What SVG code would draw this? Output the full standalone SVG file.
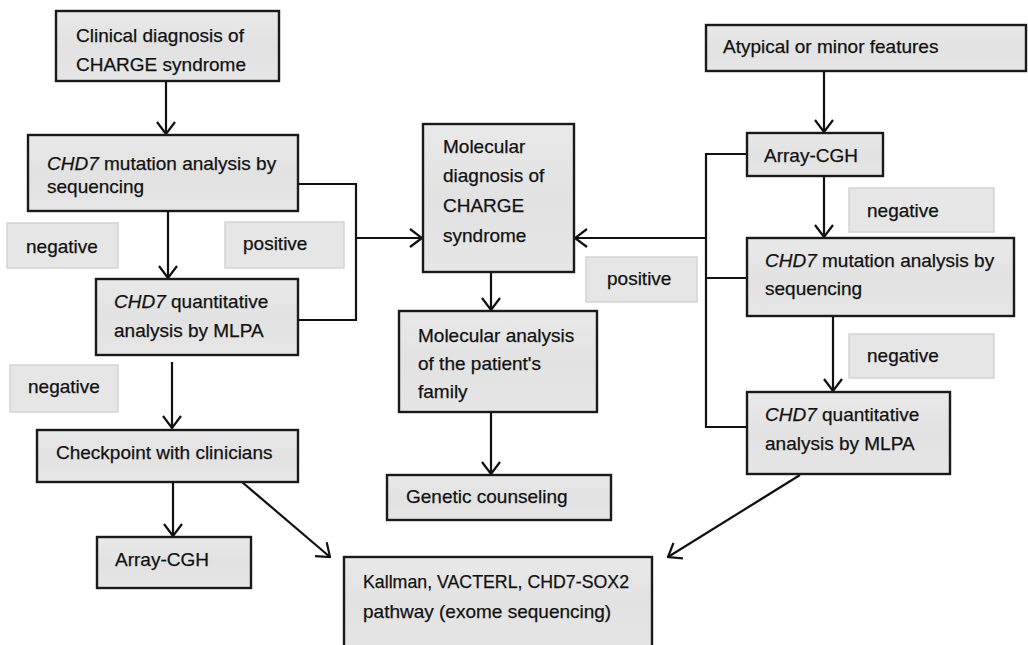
<svg xmlns="http://www.w3.org/2000/svg" width="1028" height="645" viewBox="0 0 1028 645">
  <defs>
    <linearGradient id="boxFill" x1="0" y1="0" x2="0" y2="1">
      <stop offset="0" stop-color="#e9e9e9"/>
      <stop offset="0.5" stop-color="#e2e2e2"/>
      <stop offset="1" stop-color="#e6e6e6"/>
    </linearGradient>
    <marker id="vee" viewBox="0 0 14 20" refX="13" refY="10" markerWidth="14" markerHeight="20" markerUnits="userSpaceOnUse" orient="auto">
      <path d="M1,1 L13,10 L1,19" fill="none" stroke="#111" stroke-width="2.2"/>
    </marker>
    <style>
      .box { fill: url(#boxFill); stroke: #1a1a1a; stroke-width: 2.4; }
      .tag { fill: #e6e6e6; stroke: #d4d4d4; stroke-width: 1.5; }
      .t { font-family: "Liberation Sans", Arial, sans-serif; font-size: 19px; fill: #111; stroke: #111; stroke-width: 0.25; }
      .i { font-style: italic; }
      .ln { fill: none; stroke: #111; stroke-width: 2.2; }
      .arr { fill: none; stroke: #111; stroke-width: 2.2; marker-end: url(#vee); }
    </style>
  </defs>
  <rect width="1028" height="645" fill="#ffffff"/>

  <!-- connectors -->
  <g id="connectors">
    <line class="arr" x1="166" y1="81" x2="166" y2="134"/>
    <line class="arr" x1="168" y1="211" x2="168" y2="278"/>
    <line class="arr" x1="172" y1="362" x2="172" y2="428"/>
    <line class="arr" x1="173" y1="482" x2="173" y2="536"/>
    <line class="arr" x1="242" y1="482" x2="330" y2="557"/>
    <polyline class="ln" points="298,184 356,184 356,320 298,320"/>
    <line class="arr" x1="356" y1="238" x2="422" y2="238"/>
    <line class="arr" x1="491" y1="272" x2="491" y2="310"/>
    <line class="arr" x1="491" y1="412" x2="491" y2="474"/>
    <line class="arr" x1="824" y1="71" x2="824" y2="132"/>
    <line class="arr" x1="824" y1="176" x2="824" y2="237"/>
    <line class="arr" x1="833" y1="316" x2="833" y2="391"/>
    <polyline class="ln" points="747,154 706,154 706,427 747,427"/>
    <line class="ln" x1="706" y1="278" x2="747" y2="278"/>
    <line class="arr" x1="706" y1="238" x2="575" y2="238"/>
    <line class="arr" x1="800" y1="475" x2="668" y2="557"/>
  </g>

  <!-- outcome labels -->
  <g id="label-negative-1">
    <rect class="tag" x="7" y="223" width="111" height="45"/>
    <text class="t" x="26" y="253">negative</text>
  </g>
  <g id="label-positive-1">
    <rect class="tag" x="225" y="222" width="119" height="46"/>
    <text class="t" x="243" y="250">positive</text>
  </g>
  <g id="label-negative-2">
    <rect class="tag" x="10" y="365" width="108" height="47"/>
    <text class="t" x="28" y="393">negative</text>
  </g>
  <g id="label-negative-3">
    <rect class="tag" x="849" y="188" width="145" height="44"/>
    <text class="t" x="867" y="217">negative</text>
  </g>
  <g id="label-negative-4">
    <rect class="tag" x="849" y="334" width="145" height="44"/>
    <text class="t" x="867" y="362">negative</text>
  </g>
  <g id="label-positive-2">
    <rect class="tag" x="586" y="257" width="111" height="45"/>
    <text class="t" x="607" y="285">positive</text>
  </g>

  <!-- left branch -->
  <g id="clinical-diagnosis">
    <rect class="box" x="56" y="11" width="223" height="70"/>
    <text class="t" x="76" y="42">Clinical diagnosis of</text>
    <text class="t" x="76" y="71">CHARGE syndrome</text>
  </g>
  <g id="chd7-sequencing-left">
    <rect class="box" x="28" y="135" width="270" height="76"/>
    <text class="t" x="47" y="170"><tspan class="i">CHD7</tspan> mutation analysis by</text>
    <text class="t" x="47" y="193">sequencing</text>
  </g>
  <g id="chd7-mlpa-left">
    <rect class="box" x="96" y="279" width="202" height="76"/>
    <text class="t" x="114" y="308"><tspan class="i">CHD7</tspan> quantitative</text>
    <text class="t" x="114" y="337">analysis by MLPA</text>
  </g>
  <g id="checkpoint">
    <rect class="box" x="37" y="430" width="261" height="52"/>
    <text class="t" x="56" y="459">Checkpoint with clinicians</text>
  </g>
  <g id="array-cgh-left">
    <rect class="box" x="97" y="537" width="154" height="51"/>
    <text class="t" x="115" y="566">Array-CGH</text>
  </g>

  <!-- centre column -->
  <g id="molecular-diagnosis">
    <rect class="box" x="423" y="124" width="151" height="148"/>
    <text class="t" x="443" y="153">Molecular</text>
    <text class="t" x="443" y="182">diagnosis of</text>
    <text class="t" x="443" y="212">CHARGE</text>
    <text class="t" x="443" y="242">syndrome</text>
  </g>
  <g id="family-analysis">
    <rect class="box" x="399" y="311" width="198" height="101"/>
    <text class="t" x="418" y="342">Molecular analysis</text>
    <text class="t" x="418" y="370">of the patient's</text>
    <text class="t" x="418" y="398">family</text>
  </g>
  <g id="genetic-counseling">
    <rect class="box" x="387" y="475" width="224" height="45"/>
    <text class="t" x="406" y="503">Genetic counseling</text>
  </g>
  <g id="exome-sequencing">
    <rect class="box" x="344" y="557" width="308" height="92"/>
    <text class="t" x="363" y="588" textLength="266" lengthAdjust="spacingAndGlyphs">Kallman, VACTERL, CHD7-SOX2</text>
    <text class="t" x="363" y="618">pathway (exome sequencing)</text>
  </g>

  <!-- right branch -->
  <g id="atypical-features">
    <rect class="box" x="706" y="25" width="320" height="46"/>
    <text class="t" x="723" y="53">Atypical or minor features</text>
  </g>
  <g id="array-cgh-right">
    <rect class="box" x="747" y="133" width="136" height="43"/>
    <text class="t" x="764" y="162">Array-CGH</text>
  </g>
  <g id="chd7-sequencing-right">
    <rect class="box" x="747" y="238" width="267" height="78"/>
    <text class="t" x="765" y="267"><tspan class="i">CHD7</tspan> mutation analysis by</text>
    <text class="t" x="765" y="295">sequencing</text>
  </g>
  <g id="chd7-mlpa-right">
    <rect class="box" x="747" y="392" width="203" height="82"/>
    <text class="t" x="765" y="421"><tspan class="i">CHD7</tspan> quantitative</text>
    <text class="t" x="765" y="450">analysis by MLPA</text>
  </g>
</svg>
